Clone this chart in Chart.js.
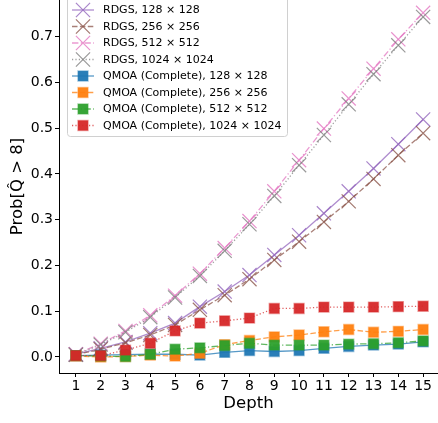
<!DOCTYPE html>
<html>
<head>
<meta charset="utf-8">
<script src="https://cdn.jsdelivr.net/npm/chart.js@4/dist/chart.umd.min.js"></script>
<style>
  html, body { margin: 0; padding: 0; background: #fff; overflow: hidden; }
  canvas { display: block; }
</style>
</head>
<body>
<canvas id="probChart" width="438" height="423"></canvas>
<script>
// Depth values on the x axis
const depths = [1, 2, 3, 4, 5, 6, 7, 8, 9, 10, 11, 12, 13, 14, 15];
const yTicks = [0, 0.1, 0.2, 0.3, 0.4, 0.5, 0.6, 0.7];

// RDGS runs
const rdgs128 = [0.006, 0.019, 0.033, 0.052, 0.074, 0.110, 0.143, 0.179, 0.223, 0.266, 0.314, 0.362, 0.412, 0.465, 0.519];
const rdgs256 = [0.005, 0.017, 0.031, 0.048, 0.070, 0.103, 0.135, 0.170, 0.212, 0.252, 0.295, 0.340, 0.389, 0.441, 0.489];
const rdgs512 = [0.006, 0.029, 0.057, 0.091, 0.134, 0.182, 0.238, 0.297, 0.362, 0.430, 0.499, 0.565, 0.630, 0.694, 0.752];
const rdgs1024 = [0.005, 0.027, 0.054, 0.087, 0.130, 0.177, 0.232, 0.290, 0.352, 0.419, 0.485, 0.552, 0.618, 0.681, 0.743];

// QMOA (Complete) runs
const qmoa128 = [0.003, 0.004, 0.005, 0.006, 0.006, 0.004, 0.010, 0.014, 0.012, 0.014, 0.019, 0.023, 0.026, 0.028, 0.033];
const qmoa256 = [0.002, 0.000, 0.001, 0.004, 0.002, 0.008, 0.027, 0.036, 0.044, 0.048, 0.055, 0.060, 0.054, 0.056, 0.060];
const qmoa512 = [0.003, 0.002, 0.001, 0.006, 0.017, 0.020, 0.025, 0.030, 0.026, 0.026, 0.026, 0.028, 0.029, 0.031, 0.035];
const qmoa1024 = [0.003, 0.003, 0.015, 0.030, 0.057, 0.074, 0.079, 0.085, 0.106, 0.106, 0.109, 0.109, 0.109, 0.110, 0.111];

const FONT = 'DejaVu Sans';

const DASH = {
  solid: [],
  dashed: [5.5, 2.4],
  dashdot: [6.4, 2.4, 1.2, 2.4],
  dotted: [1.2, 2.2]
};

function rgba(hex, a) {
  const n = parseInt(hex.slice(1), 16);
  return 'rgba(' + (n >> 16) + ',' + ((n >> 8) & 255) + ',' + (n & 255) + ',' + a + ')';
}

function rdgsSet(label, values, color, dash) {
  return {
    label: label,
    data: depths.map((d, i) => ({ x: d, y: values[i] })),
    borderColor: rgba(color, 0.75),
    backgroundColor: rgba(color, 0.75),
    borderWidth: 1.3,
    borderDash: DASH[dash],
    pointStyle: 'crossRot',
    pointRadius: 10,
    pointBorderWidth: 1.2,
    pointBorderColor: rgba(color, 0.8),
    tension: 0,
    fill: false
  };
}

function qmoaSet(label, values, color, dash) {
  return {
    label: label,
    data: depths.map((d, i) => ({ x: d, y: values[i] })),
    borderColor: rgba(color, 0.75),
    backgroundColor: rgba(color, 0.95),
    borderWidth: 1.3,
    borderDash: DASH[dash],
    pointStyle: 'rect',
    pointRadius: 7,
    pointBorderWidth: 1.5,
    pointBorderColor: rgba(color, 0.45),
    tension: 0,
    fill: false
  };
}

const datasets = [
  rdgsSet('RDGS, 128 × 128', rdgs128, '#9467bd', 'solid'),
  rdgsSet('RDGS, 256 × 256', rdgs256, '#8c564b', 'dashed'),
  rdgsSet('RDGS, 512 × 512', rdgs512, '#e377c2', 'dashdot'),
  rdgsSet('RDGS, 1024 × 1024', rdgs1024, '#7f7f7f', 'dotted'),
  qmoaSet('QMOA (Complete), 128 × 128', qmoa128, '#1f77b4', 'solid'),
  qmoaSet('QMOA (Complete), 256 × 256', qmoa256, '#ff7f0e', 'dashed'),
  qmoaSet('QMOA (Complete), 512 × 512', qmoa512, '#2ca02c', 'dashdot'),
  qmoaSet('QMOA (Complete), 1024 × 1024', qmoa1024, '#d62728', 'dotted')
];
// later series sit on top
datasets.forEach((ds, i) => { ds.order = datasets.length - i; });

// legend box in the upper left, with line + marker handles
const legendBox = {
  id: 'legendBox',
  afterDraw(chart) {
    const ctx = chart.ctx;
    ctx.save();
    const bx = 67.5, by = -4, bw = 220, bh = 140.5, r = 3;
    ctx.beginPath();
    ctx.moveTo(bx + r, by);
    ctx.lineTo(bx + bw - r, by);
    ctx.quadraticCurveTo(bx + bw, by, bx + bw, by + r);
    ctx.lineTo(bx + bw, by + bh - r);
    ctx.quadraticCurveTo(bx + bw, by + bh, bx + bw - r, by + bh);
    ctx.lineTo(bx + r, by + bh);
    ctx.quadraticCurveTo(bx, by + bh, bx, by + bh - r);
    ctx.lineTo(bx, by + r);
    ctx.quadraticCurveTo(bx, by, bx + r, by);
    ctx.closePath();
    ctx.fillStyle = 'rgba(255,255,255,0.8)';
    ctx.fill();
    ctx.strokeStyle = '#d0d0d0';
    ctx.lineWidth = 1;
    ctx.stroke();

    chart.data.datasets.forEach((ds, i) => {
      const y = 10 + i * 16.5;
      ctx.beginPath();
      ctx.setLineDash(ds.borderDash);
      ctx.strokeStyle = ds.borderColor;
      ctx.lineWidth = ds.borderWidth;
      ctx.moveTo(72, y);
      ctx.lineTo(94, y);
      ctx.stroke();
      ctx.setLineDash([]);

      const cx = 83;
      if (ds.pointStyle === 'rect') {
        const s = ds.pointRadius * Math.SQRT1_2;
        ctx.fillStyle = ds.backgroundColor;
        ctx.fillRect(cx - s, y - s, 2 * s, 2 * s);
        ctx.strokeStyle = ds.pointBorderColor;
        ctx.lineWidth = ds.pointBorderWidth;
        ctx.strokeRect(cx - s, y - s, 2 * s, 2 * s);
      } else {
        const s = ds.pointRadius * Math.SQRT1_2;
        ctx.strokeStyle = ds.pointBorderColor;
        ctx.lineWidth = ds.pointBorderWidth;
        ctx.beginPath();
        ctx.moveTo(cx - s, y - s); ctx.lineTo(cx + s, y + s);
        ctx.moveTo(cx - s, y + s); ctx.lineTo(cx + s, y - s);
        ctx.stroke();
      }

      ctx.fillStyle = '#000';
      ctx.font = '11px "' + FONT + '"';
      ctx.textBaseline = 'middle';
      ctx.textAlign = 'left';
      ctx.fillText(ds.label, 103, y + 0.5);
    });
    ctx.restore();
  }
};

new Chart(document.getElementById('probChart'), {
  type: 'line',
  data: { datasets: datasets },
  options: {
    responsive: false,
    animation: false,
    clip: false,
    layout: { padding: 0, autoPadding: false },
    plugins: {
      legend: { display: false },
      tooltip: { enabled: false }
    },
    scales: {
      x: {
        type: 'linear',
        min: 0.32,
        max: 15.6,
        afterBuildTicks: (scale) => { scale.ticks = depths.map(v => ({ value: v })); },
        afterFit: (scale) => {
          scale.height = 50;
          scale.paddingLeft = 0;
          scale.paddingRight = 0;
        },
        ticks: {
          color: '#000',
          font: { family: FONT, size: 14 },
          padding: 1,
          maxRotation: 0,
          autoSkip: false
        },
        grid: { drawOnChartArea: false, drawTicks: true, tickLength: 4, tickColor: '#000', tickWidth: 1 },
        border: { display: true, color: '#000', width: 1 },
        title: {
          display: true,
          text: 'Depth',
          color: '#000',
          font: { family: FONT, size: 16.5 },
          padding: { top: 0, bottom: 9 }
        }
      },
      y: {
        type: 'linear',
        min: -0.035,
        max: 0.78,
        afterBuildTicks: (scale) => { scale.ticks = yTicks.map(v => ({ value: v })); },
        afterFit: (scale) => {
          scale.width = 59;
          scale.paddingTop = 0;
          scale.paddingBottom = 0;
        },
        ticks: {
          color: '#000',
          font: { family: FONT, size: 14 },
          padding: 2,
          callback: (v) => Number(v).toFixed(1)
        },
        grid: { drawOnChartArea: false, drawTicks: true, tickLength: 4, tickColor: '#000', tickWidth: 1 },
        border: { display: true, color: '#000', width: 1 },
        title: {
          display: true,
          text: 'Prob[Q̂ > 8]',
          color: '#000',
          font: { family: FONT, size: 16.5 },
          padding: { top: 8, bottom: 0 }
        }
      }
    }
  },
  plugins: [legendBox]
});
</script>
</body>
</html>
